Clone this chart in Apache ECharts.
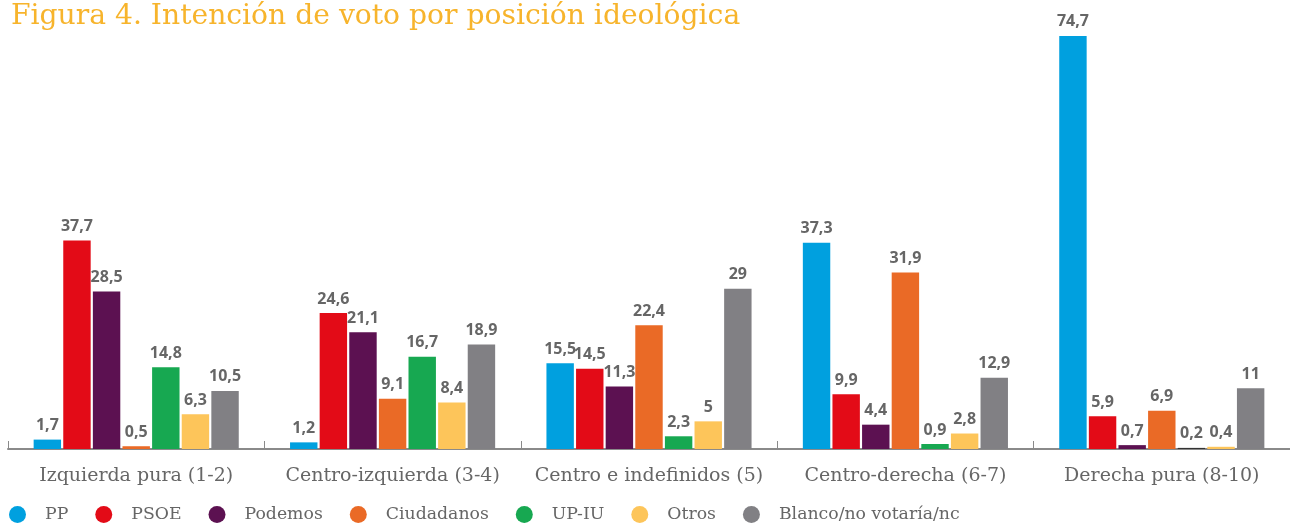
<!DOCTYPE html>
<html>
<head>
<meta charset="utf-8">
<script src="https://cdn.jsdelivr.net/npm/echarts@6/dist/echarts.min.js"></script>
<style>
  html, body { margin: 0; padding: 0; background: #fff; }
  #chart { width: 1290px; height: 523px; }
</style>
</head>
<body>
<div id="chart"></div>
<script>
const categories = ['Izquierda pura (1-2)', 'Centro-izquierda (3-4)', 'Centro e indefinidos (5)', 'Centro-derecha (6-7)', 'Derecha pura (8-10)']
const seriesNames = ['PP', 'PSOE', 'Podemos', 'Ciudadanos', 'UP-IU', 'Otros', 'Blanco/no votaría/nc']
const pp = [1.7, 1.2, 15.5, 37.3, 74.7]
const psoe = [37.7, 24.6, 14.5, 9.9, 5.9]
const podemos = [28.5, 21.1, 11.3, 4.4, 0.7]
const ciudadanos = [0.5, 9.1, 22.4, 31.9, 6.9]
const upiu = [14.8, 16.7, 2.3, 0.9, 0.2]
const otros = [6.3, 8.4, 5, 2.8, 0.4]
const blanco = [10.5, 18.9, 29, 12.9, 11]
const colors = ['#00a0df', '#e30b17', '#5c1151', '#ea6a26', '#17a851', '#fdc55a', '#818084']

const serieData = [pp, psoe, podemos, ciudadanos, upiu, otros, blanco]

const chart = echarts.init(document.getElementById('chart'))

const option = {
  animation: false,
  title: {
    text: 'Figura 4. Intención de voto por posición ideológica',
    left: 6,
    top: -2,
    textStyle: {
      color: '#f7b42c',
      fontFamily: 'DejaVu Serif',
      fontWeight: 'normal',
      fontSize: 28.2
    }
  },
  legend: {
    data: seriesNames,
    left: 4,
    top: 501,
    icon: 'circle',
    itemWidth: 17,
    itemHeight: 17,
    itemGap: 27,
    textStyle: {
      color: '#666',
      fontFamily: 'DejaVu Serif',
      fontSize: 17.3,
      padding: [0, 0, 0, 14]
    }
  },
  grid: {
    left: 8,
    right: 0,
    top: 6.6,
    bottom: 74
  },
  xAxis: {
    type: 'category',
    data: categories,
    axisLine: { lineStyle: { color: '#8a8a8a', width: 2 } },
    axisTick: { show: true, inside: true, length: 8, lineStyle: { color: '#8a8a8a', width: 1 } },
    axisLabel: {
      interval: 0,
      color: '#666',
      fontFamily: 'DejaVu Serif',
      fontSize: 19,
      margin: 18
    }
  },
  yAxis: {
    type: 'value',
    min: 0,
    max: 80,
    show: false,
    splitLine: { show: false }
  },
  series: seriesNames.map((name, i) => ({
    name: name,
    type: 'bar',
    barCategoryGap: '20%',
    barGap: '8%',
    itemStyle: { color: colors[i] },
    label: {
      show: true,
      position: 'top',
      distance: 6,
      color: '#666',
      fontFamily: 'Open Sans',
      fontWeight: 'bold',
      fontSize: 16,
      formatter: p => String(p.value).replace('.', ',')
    },
    data: serieData[i].map((v, j) => (i === 4 && j === 4) ? { value: v, itemStyle: { color: '#333' } } : v)
  }))
}

chart.setOption(option)
</script>
</body>
</html>
